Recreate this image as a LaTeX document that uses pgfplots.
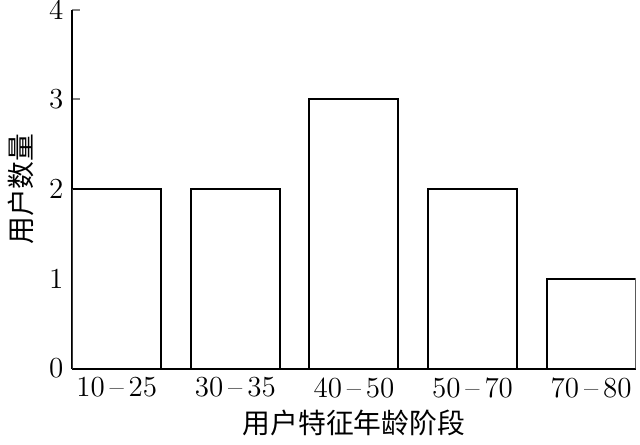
\documentclass[border=0pt]{standalone}
\usepackage{pgfplots}
\pgfplotsset{compat=1.18}
\usepackage{fontspec}
\newfontfamily\cjk{Noto Sans CJK SC}

\begin{document}
\begin{tikzpicture}
\begin{axis}[
    scale only axis,
    width=223pt,
    height=142pt,
    ybar,
    bar width=0.75,
    xmin=-0.375, xmax=4.375,
    ymin=0, ymax=4,
    xtick=data,
    xticklabels={10\,--\,25, 30\,--\,35, 40\,--\,50, 50\,--\,70, 70\,--\,80},
    ytick={0,1,2,3,4},
    /pgf/number format/assume math mode=true,
    ticklabel style={font=\fontsize{11.5}{13}\selectfont},
    yticklabel style={inner ysep=0pt},
    axis x line=bottom,
    axis y line=left,
    axis line style={-, line width=0.8pt},
    tick align=inside,
    major tick length=3pt,
    ytick style={line width=0.8pt},
    xtick style={draw=none},
    xlabel={\cjk\fontsize{11}{13}\selectfont 用户特征年龄阶段},
    ylabel={\cjk\fontsize{11}{13}\selectfont 用户数量},
    xlabel style={yshift=2pt},
    ylabel style={yshift=-1pt},
]
\addplot[draw=black, fill=white, line width=0.8pt]
    coordinates {(0,2) (1,2) (2,3) (3,2) (4,1)};
\end{axis}
\end{tikzpicture}
\end{document}
